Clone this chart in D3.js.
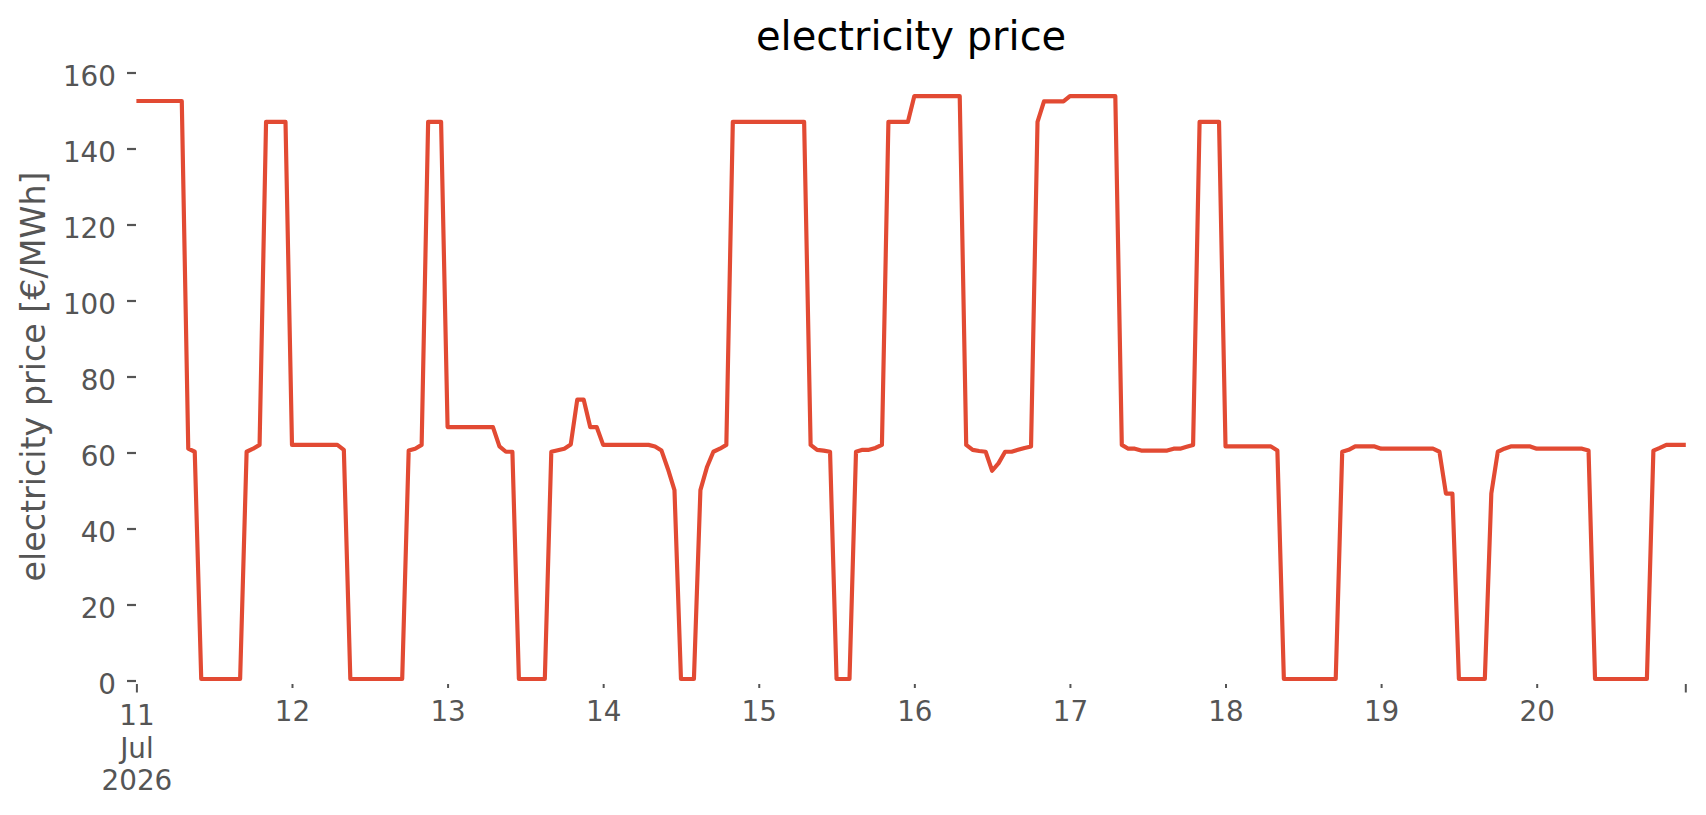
<!DOCTYPE html>
<html>
<head>
<meta charset="utf-8">
<script src="https://cdn.jsdelivr.net/npm/d3@7"></script>
<style>
  html, body { margin: 0; padding: 0; background: #ffffff; }
  svg { display: block; font-family: "DejaVu Sans", sans-serif; }
</style>
</head>
<body>
<svg id="chart" width="1706" height="815"></svg>
<script>
// ---------------- data ----------------
const chartTitle = "electricity price";
const yLabel = "electricity price [€/MWh]";
const startTime = new Date(2026, 6, 11, 0, 0);   // 11 Jul 2026 00:00, hourly
// hourly prices [€/MWh], one row per day (11 .. 20 Jul)
const prices = [
  152.5,152.5,152.5,152.5,152.5,152.5,152.5,152.5, 61.0, 60.2,  0.4,  0.4,  0.4,  0.4,  0.4,  0.4,  0.4, 60.2, 61.0, 62.0,147.0,147.0,147.0,147.0,
   62.0, 62.0, 62.0, 62.0, 62.0, 62.0, 62.0, 62.0, 60.7,  0.4,  0.4,  0.4,  0.4,  0.4,  0.4,  0.4,  0.4,  0.4, 60.5, 61.0, 62.0,147.0,147.0,147.0,
   66.7, 66.7, 66.7, 66.7, 66.7, 66.7, 66.7, 66.7, 61.6, 60.2, 60.2,  0.4,  0.4,  0.4,  0.4,  0.4, 60.2, 60.6, 61.0, 62.1, 73.9, 73.9, 66.7, 66.7,
   62.0, 62.0, 62.0, 62.0, 62.0, 62.0, 62.0, 62.0, 61.6, 60.5, 55.6, 50.1,  0.4,  0.4,  0.4, 50.1, 56.1, 60.2, 61.0, 62.0,147.0,147.0,147.0,147.0,
  147.0,147.0,147.0,147.0,147.0,147.0,147.0,147.0, 62.0, 60.7, 60.5, 60.2,  0.4,  0.4,  0.4, 60.2, 60.7, 60.7, 61.2, 62.0,147.0,147.0,147.0,147.0,
  153.8,153.8,153.8,153.8,153.8,153.8,153.8,153.8, 62.0, 60.7, 60.4, 60.2, 55.2, 57.2, 60.2, 60.2, 60.7, 61.2, 61.6,147.0,152.4,152.4,152.4,152.4,
  153.8,153.8,153.8,153.8,153.8,153.8,153.8,153.8, 62.0, 61.0, 61.0, 60.5, 60.5, 60.5, 60.5, 60.5, 61.0, 61.0, 61.5, 62.0,147.0,147.0,147.0,147.0,
   61.6, 61.6, 61.6, 61.6, 61.6, 61.6, 61.6, 61.6, 60.5,  0.4,  0.4,  0.4,  0.4,  0.4,  0.4,  0.4,  0.4,  0.4, 60.2, 60.7, 61.6, 61.6, 61.6, 61.6,
   61.0, 61.0, 61.0, 61.0, 61.0, 61.0, 61.0, 61.0, 61.0, 60.2, 49.2, 49.2,  0.4,  0.4,  0.4,  0.4,  0.4, 49.2, 60.2, 61.0, 61.6, 61.6, 61.6, 61.6,
   61.0, 61.0, 61.0, 61.0, 61.0, 61.0, 61.0, 61.0, 60.5,  0.4,  0.4,  0.4,  0.4,  0.4,  0.4,  0.4,  0.4,  0.4, 60.5, 61.2, 62.0, 62.0, 62.0, 62.0
];
const yTicks = [0, 20, 40, 60, 80, 100, 120, 140, 160];
const xTickDays = [11, 12, 13, 14, 15, 16, 17, 18, 19, 20];
const xTickLabels = ["11\nJul\n2026", "12", "13", "14", "15", "16", "17", "18", "19", "20"];

// ---------------- layout ----------------
const lineColor = "#E24A33";
const tickColor = "#555555";
const svg = d3.select("#chart");

const times = prices.map((_, i) => d3.timeHour.offset(startTime, i));
const points = prices.map((v, i) => ({ t: times[i], v: v }));

const x = d3.scaleTime()
  .domain([times[0], times[times.length - 1]])
  .range([136.4, 1685.8]);
const y = d3.scaleLinear().domain([0, 160]).range([680.5, 72.5]);

// title
svg.append("text")
  .attr("x", (136.4 + 1685.8) / 2)
  .attr("y", 50)
  .attr("text-anchor", "middle")
  .attr("font-size", 40)
  .attr("fill", "#000000")
  .text(chartTitle);

// y label
svg.append("text")
  .attr("transform", "translate(45," + (y(0) + y(160)) / 2 + ") rotate(-90)")
  .attr("text-anchor", "middle")
  .attr("font-size", 33.3)
  .attr("fill", tickColor)
  .text(yLabel);

// y axis
const yAxis = svg.append("g")
  .attr("transform", "translate(136,0)")
  .call(d3.axisLeft(y).tickValues(yTicks).tickSize(9).tickPadding(11).tickFormat(d3.format("d")));
yAxis.select(".domain").remove();
yAxis.selectAll(".tick line").attr("stroke", tickColor).attr("stroke-width", 2.2);
yAxis.selectAll(".tick text")
  .attr("fill", tickColor)
  .attr("font-size", 27.8)
  .attr("font-family", "DejaVu Sans, sans-serif")
  .attr("dy", "0.47em");

// x axis
const dayDates = xTickDays.map(d => new Date(2026, 6, d, 0, 0));
const xAxis = svg.append("g")
  .attr("transform", "translate(0,684)")
  .call(d3.axisBottom(x).tickValues(dayDates).tickSize(4).tickPadding(0)
    .tickFormat((d, i) => xTickLabels[i]));
xAxis.select(".domain").remove();
xAxis.selectAll(".tick line").attr("stroke", tickColor).attr("stroke-width", 2);
xAxis.selectAll(".tick").filter((d, i) => i === 0).select("line").attr("y2", 8.5);
xAxis.selectAll(".tick text").each(function (d, i) {
  const t = d3.select(this);
  const lines = xTickLabels[i].split("\n");
  t.text(null)
    .attr("fill", tickColor)
    .attr("font-size", 27.8)
    .attr("font-family", "DejaVu Sans, sans-serif")
    .attr("dy", null)
    .attr("y", lines.length > 1 ? 41 : 37);
  lines.forEach((s, k) => {
    t.append("tspan").attr("x", 0).attr("dy", k === 0 ? 0 : 32.5).text(s);
  });
});
// axis end tick (last timestamp)
svg.append("line")
  .attr("x1", x(times[times.length - 1])).attr("x2", x(times[times.length - 1]))
  .attr("y1", 684).attr("y2", 692.5)
  .attr("stroke", tickColor).attr("stroke-width", 2);

// line
svg.append("path")
  .datum(points)
  .attr("fill", "none")
  .attr("stroke", lineColor)
  .attr("stroke-width", 4.17)
  .attr("stroke-linejoin", "round")
  .attr("stroke-linecap", "butt")
  .attr("d", d3.line().x(d => x(d.t)).y(d => y(d.v)));
</script>
</body>
</html>
